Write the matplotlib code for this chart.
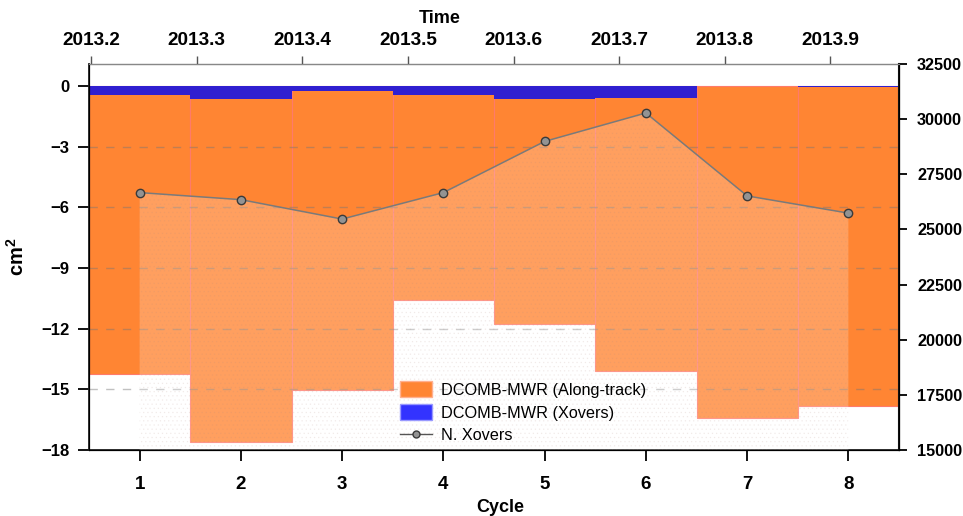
import matplotlib.pyplot as plt
from matplotlib.patches import Patch
from matplotlib.lines import Line2D

plt.rcParams['font.family'] = ['Liberation Sans', 'DejaVu Sans']
plt.rcParams['mathtext.fontset'] = 'custom'
plt.rcParams['mathtext.bf'] = 'Liberation Sans:bold'
plt.rcParams['hatch.linewidth'] = 0.5

# donnees par cycle
cycles = [1, 2, 3, 4, 5, 6, 7, 8]
along_track = [-14.24, -17.62, -15.02, -10.6, -11.79, -14.1, -16.4, -15.83]
xovers = [-0.43, -0.64, -0.25, -0.46, -0.63, -0.6, -0.02, -0.03]
n_xovers = [26670, 26350, 25470, 26670, 28990, 30280, 26520, 25740]
grid_levels = [-3, -6, -9, -12, -15]
time_ticks = [2013.2, 2013.3, 2013.4, 2013.5, 2013.6, 2013.7, 2013.8, 2013.9]

orange = '#FF8533'
blue_bar = '#301FD0'
blue_leg = '#3333FF'

fig = plt.figure(figsize=(9.63, 5.16), dpi=100)
ax = fig.add_axes([89 / 963, 66 / 516, 810 / 963, 386 / 516])

# barres cm2
ax.bar(cycles, along_track, width=1.0, color=orange, edgecolor='#FF7A6A', linewidth=0.8, zorder=1)
ax.bar(cycles, xovers, width=1.0, color=blue_bar, edgecolor='none', zorder=1.1)
for g in grid_levels:
    ax.axhline(g, color='#777777', alpha=0.45, lw=1.0, dashes=(6, 6), zorder=2)

ax.set_xlim(0.5, 8.5)
ax.set_ylim(-18, 1.088)
ax.set_xticks(cycles)
ax.set_yticks([0, -3, -6, -9, -12, -15, -18])
ax.tick_params(axis='x', direction='out', length=8, width=1.3, pad=11, labelsize=13.5)
ax.tick_params(axis='y', direction='out', length=8, width=1.3, pad=6, labelsize=12)
for lab in ax.get_xticklabels() + ax.get_yticklabels():
    lab.set_fontweight('bold')
ax.set_xlabel('Cycle', fontsize=13, fontweight='bold', labelpad=0)
ax.xaxis.set_label_coords((500 - 89) / 810, -(499 - 450) / 386)
ax.set_ylabel(r'$\mathbf{cm^2}$', fontsize=14.5)
ax.yaxis.set_label_coords(-(89 - 28) / 810, 0.5)
for s in ['left', 'bottom']:
    ax.spines[s].set_linewidth(1.3)
    ax.spines[s].set_color('#222222')

# nombre de croisements
ax2 = ax.twinx()
ax2.fill_between(cycles, n_xovers, 15000, facecolor=(1, 1, 1, 0.22),
                 edgecolor=(0.7, 0.55, 0.5, 0.12), hatch='....', linewidth=0)
ax2.plot(cycles, n_xovers, color='#7A7A7A', lw=1.1, marker='o', markersize=6,
         markerfacecolor='#939393', markeredgecolor='#3A3A3A', markeredgewidth=1)
ax2.set_ylim(15000, 32500)
ax2.set_yticks([15000, 17500, 20000, 22500, 25000, 27500, 30000, 32500])
ax2.tick_params(axis='y', direction='out', length=6, width=1.3, pad=7, labelsize=11.7)
for lab in ax2.get_yticklabels():
    lab.set_fontweight('bold')
ax2.spines['right'].set_linewidth(1.5)
ax2.spines['right'].set_color('#111111')
ax2.spines['top'].set_color('#888888')

# axe du temps en haut
ax3 = ax.twiny()
ax3.set_xlim(2013.198, 2013.965)
ax3.set_xticks(time_ticks)
ax3.set_xticklabels(['%.1f' % t for t in time_ticks])
ax3.tick_params(axis='x', direction='out', length=6, width=1.0, color='#555555', pad=4.5, labelsize=13.7)
for lab in ax3.get_xticklabels():
    lab.set_fontweight('bold')
ax3.set_xlabel('Time', fontsize=13, fontweight='bold')
ax3.xaxis.set_label_coords((440 - 89) / 810, 1 + (64 - 23) / 386)
ax3.spines['top'].set_color('#888888')

handles = [
    Patch(facecolor=orange, edgecolor='#FFB090', label='DCOMB-MWR (Along-track)'),
    Patch(facecolor=blue_leg, edgecolor='#9999FF', label='DCOMB-MWR (Xovers)'),
    Line2D([], [], color='#555555', lw=1, marker='o', markersize=5,
           markerfacecolor='#939393', markeredgecolor='#3A3A3A', label='N. Xovers'),
]
ax3.legend(handles=handles, loc='upper left', bbox_to_anchor=(389 / 963, 1 - 370 / 516),
           bbox_transform=fig.transFigure, frameon=False, fontsize=11.7,
           handlelength=1.95, handleheight=1.1, handletextpad=0.55, labelspacing=0.4,
           borderpad=0.2)

plt.savefig('out.png', dpi=100)
